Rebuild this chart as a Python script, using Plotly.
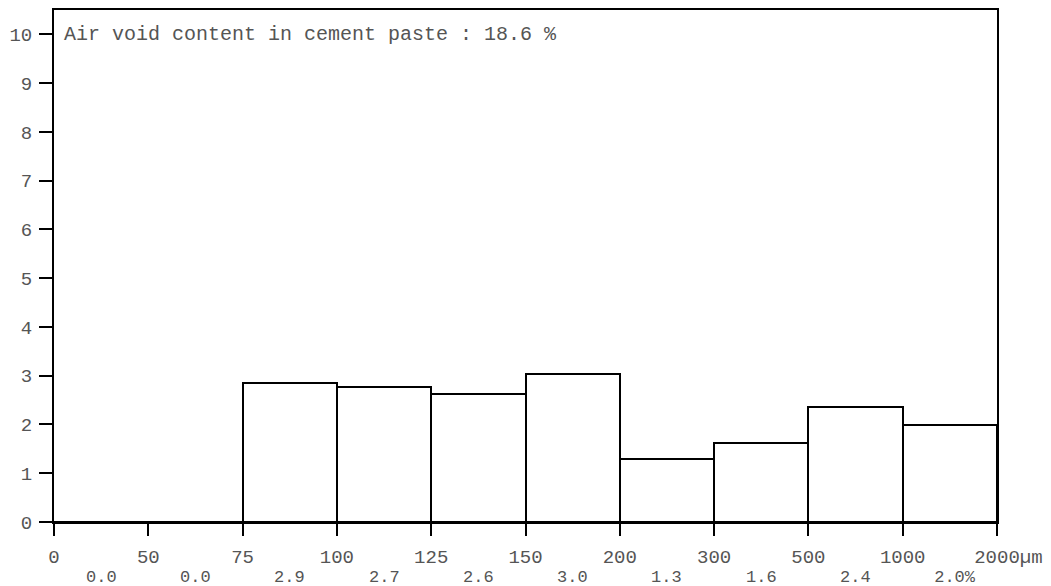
import plotly.graph_objects as go

# Data
bin_edges = ["0", "50", "75", "100", "125", "150", "200", "300", "500", "1000", "2000"]
edge_unit = "µm"
bar_values = [0.0, 0.0, 2.86, 2.76, 2.63, 3.04, 1.30, 1.62, 2.35, 1.98]
pct_labels = ["0.0", "0.0", "2.9", "2.7", "2.6", "3.0", "1.3", "1.6", "2.4", "2.0"]
pct_unit = "%"
title_text = "Air void content in cement paste : 18.6 %"
y_ticks = list(range(0, 11))

FONT = "Liberation Mono, Courier New, monospace"
TXT = "#555555"

n = len(bar_values)
centers = [i + 0.5 for i in range(n)]

fig = go.Figure()
fig.add_trace(go.Bar(
    x=centers, y=bar_values, width=1.0,
    marker=dict(color="white", line=dict(color="black", width=2)),
    showlegend=False, hoverinfo="skip",
))

# tick text: last label gets unit, padded with nbsp so number stays centred
ticktext = list(bin_edges)
ticktext[-1] = "\u00a0" * len(edge_unit) + bin_edges[-1] + edge_unit

fig.update_xaxes(
    range=[0, n], tickmode="array", tickvals=list(range(n + 1)), ticktext=ticktext,
    ticks="outside", ticklen=12, tickwidth=2, tickcolor="black",
    showline=True, linecolor="black", linewidth=2, mirror=True,
    showgrid=False, zeroline=False, automargin=False, ticklabelstandoff=4,
    tickfont=dict(family=FONT, size=19, color=TXT),
)
fig.update_yaxes(
    range=[0, 10.5], tickmode="array", tickvals=y_ticks,
    ticks="outside", ticklen=13, tickwidth=2, tickcolor="black",
    showline=True, linecolor="black", linewidth=2, mirror=True,
    showgrid=False, zeroline=False, automargin=False, ticklabelstandoff=3,
    tickfont=dict(family=FONT, size=19, color=TXT),
)

annotations = []
for i, (c, lab) in enumerate(zip(centers, pct_labels)):
    text = lab
    if i == n - 1:
        text = "\u00a0" * len(pct_unit) + lab + pct_unit
    annotations.append(dict(
        x=c, y=0, xref="x", yref="paper", text=text, showarrow=False,
        xanchor="center", yanchor="middle", yshift=-55,
        font=dict(family=FONT, size=17, color=TXT),
    ))
annotations.append(dict(
    x=0, y=10, xref="x", yref="y", text=title_text, showarrow=False,
    xanchor="left", yanchor="middle", xshift=8,
    font=dict(family=FONT, size=20, color=TXT),
))

fig.update_layout(
    width=1051, height=586,
    margin=dict(l=54, r=54, t=10, b=64),
    plot_bgcolor="white", paper_bgcolor="white",
    annotations=annotations, bargap=0,
)

fig.write_html("out.html", config={"displayModeBar": False},
               post_script="document.body.style.margin='0';")
